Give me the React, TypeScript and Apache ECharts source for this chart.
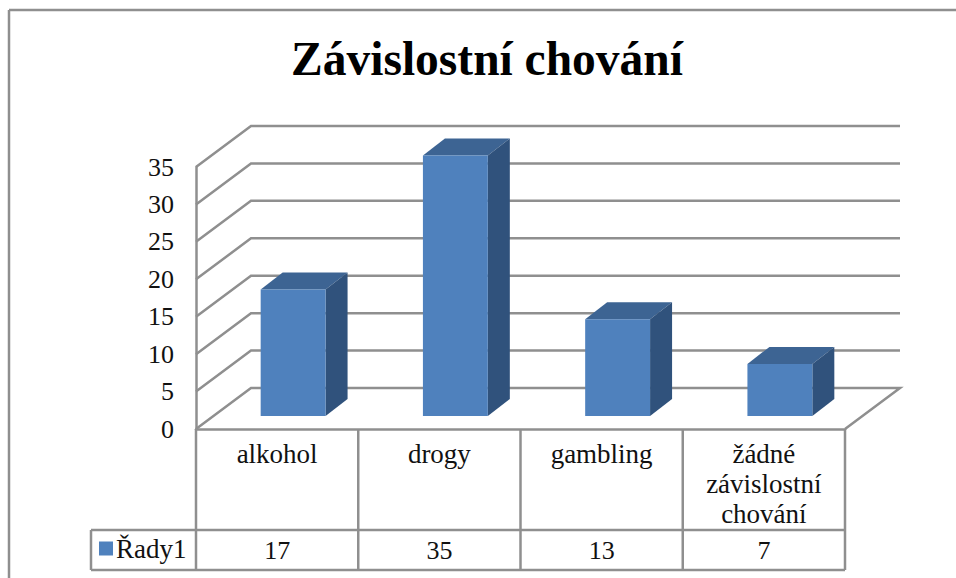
import React, { useEffect, useRef } from "react";
import * as echarts from "echarts";

const titleText = "Závislostní chování";
const seriesName = "Řady1";
const categories = ["alkohol", "drogy", "gambling", "žádné\nzávislostní\nchování"];
const values = [17, 35, 13, 7];
const wallTicks = [0, 5, 10, 15, 20, 25, 30, 35];

const FONT = "'Liberation Serif', 'Times New Roman', serif";
const LINE = "#8f8f8f";
const LW = 2.5;
const FRONT = "#4f81bd";
const TOP = "#3d6493";
const SIDE = "#30527c";

const G = { left: 196, right: 845, top: 167, bottom: 429 };
const WALL = { dx: 55, dy: 41 };
const BAR = { shift: 16, lift: 13, dx: 22, dy: 17, ratio: 0.4, heightScale: 0.994 };
const TABLE = { keyLeft: 91, rowTop: 530, bottom: 570 };

function renderWall(params: any, api: any) {
  const v = api.value(1);
  const cs = params.coordSys;
  const y = api.coord([0, v])[1];
  const style = { stroke: LINE, lineWidth: LW, fill: "none" };
  const x0 = cs.x;
  const x1 = cs.x + cs.width;
  const pts =
    v === 0
      ? [
          [x0, y],
          [x0 + WALL.dx, y - WALL.dy],
          [x1 + WALL.dx, y - WALL.dy],
          [x1, y],
        ]
      : [
          [x0, y],
          [x0 + WALL.dx, y - WALL.dy],
          [x1 + WALL.dx, y - WALL.dy],
        ];
  return { type: "polyline", shape: { points: pts }, style };
}

function renderBar(_params: any, api: any) {
  const i = api.value(0);
  const top = api.coord([i, api.value(1)]);
  const base = api.coord([i, 0]);
  const w = api.size([1, 0])[0] * BAR.ratio;
  const l = top[0] + BAR.shift - w / 2;
  const r = l + w;
  const b = base[1] - BAR.lift;
  const t = b - (base[1] - top[1]) * BAR.heightScale;
  const { dx, dy } = BAR;
  return {
    type: "group",
    children: [
      {
        type: "polygon",
        shape: { points: [[l, t], [r, t], [r + dx, t - dy], [l + dx, t - dy]] },
        style: { fill: TOP },
      },
      {
        type: "polygon",
        shape: { points: [[r, t], [r + dx, t - dy], [r + dx, b - dy], [r, b]] },
        style: { fill: SIDE },
      },
      { type: "rect", shape: { x: l, y: t, width: w, height: b - t }, style: { fill: FRONT } },
    ],
  };
}

function tableGraphics() {
  const colW = (G.right - G.left) / categories.length;
  const out: any[] = [];
  const seg = (x1: number, y1: number, x2: number, y2: number) =>
    out.push({
      type: "line",
      shape: { x1, y1, x2, y2 },
      style: { stroke: LINE, lineWidth: LW },
    });
  for (let i = 0; i <= categories.length; i++) {
    const x = G.left + i * colW;
    seg(x, G.bottom, x, TABLE.bottom);
  }
  seg(TABLE.keyLeft, TABLE.rowTop, G.right, TABLE.rowTop);
  seg(TABLE.keyLeft, TABLE.bottom, G.right, TABLE.bottom);
  seg(TABLE.keyLeft, TABLE.rowTop, TABLE.keyLeft, TABLE.bottom);
  values.forEach((v, i) => {
    out.push({
      type: "text",
      x: G.left + (i + 0.5) * colW,
      y: (TABLE.rowTop + TABLE.bottom) / 2,
      style: {
        text: String(v),
        font: `26px ${FONT}`,
        fill: "#111",
        textAlign: "center",
        textVerticalAlign: "middle",
      },
    });
  });
  // chart frame
  seg(9, 10, 956, 10);
  seg(9, 10, 9, 578);
  return out;
}

export default function App() {
  const ref = useRef<HTMLDivElement>(null);
  useEffect(() => {
    const chart = echarts.init(ref.current!, undefined, { renderer: "svg" });
    chart.setOption({
      animation: false,
      backgroundColor: "#ffffff",
      title: {
        text: titleText,
        left: 482,
        top: 30,
        textAlign: "center",
        textStyle: { fontFamily: FONT, fontSize: 47.5, fontWeight: "bold", color: "#000" },
      },
      legend: {
        left: 94,
        top: 530,
        itemWidth: 14,
        itemHeight: 14,
        data: [{ name: seriesName, icon: "rect", itemStyle: { color: FRONT } }],
        textStyle: { fontFamily: FONT, fontSize: 27, color: "#111", padding: [0, 0, 0, -2] },
      },
      grid: {
        left: G.left,
        top: G.top,
        width: G.right - G.left,
        height: G.bottom - G.top,
        containLabel: false,
      },
      xAxis: {
        type: "category",
        data: categories,
        axisTick: { show: false },
        axisLine: { show: true, lineStyle: { color: LINE, width: LW } },
        axisLabel: {
          margin: 10,
          interval: 0,
          fontFamily: FONT,
          fontSize: 27,
          lineHeight: 30,
          color: "#111",
        },
      },
      yAxis: {
        type: "value",
        min: 0,
        max: 35,
        interval: 5,
        axisTick: { show: false },
        axisLine: { show: true, lineStyle: { color: LINE, width: LW } },
        splitLine: { show: false },
        axisLabel: { margin: 22, fontFamily: FONT, fontSize: 26, color: "#111" },
      },
      series: [
        {
          name: "wall",
          type: "custom",
          renderItem: renderWall,
          data: wallTicks.map((v) => [0, v]),
          silent: true,
          z: 1,
        },
        {
          name: seriesName,
          type: "custom",
          renderItem: renderBar,
          data: values.map((v, i) => [i, v]),
          encode: { x: 0, y: 1 },
          itemStyle: { color: FRONT },
          z: 2,
        },
      ],
      graphic: tableGraphics(),
    });
    return () => chart.dispose();
  }, []);
  return <div ref={ref} style={{ position: "absolute", left: 0, top: 0, width: 956, height: 578 }} />;
}
